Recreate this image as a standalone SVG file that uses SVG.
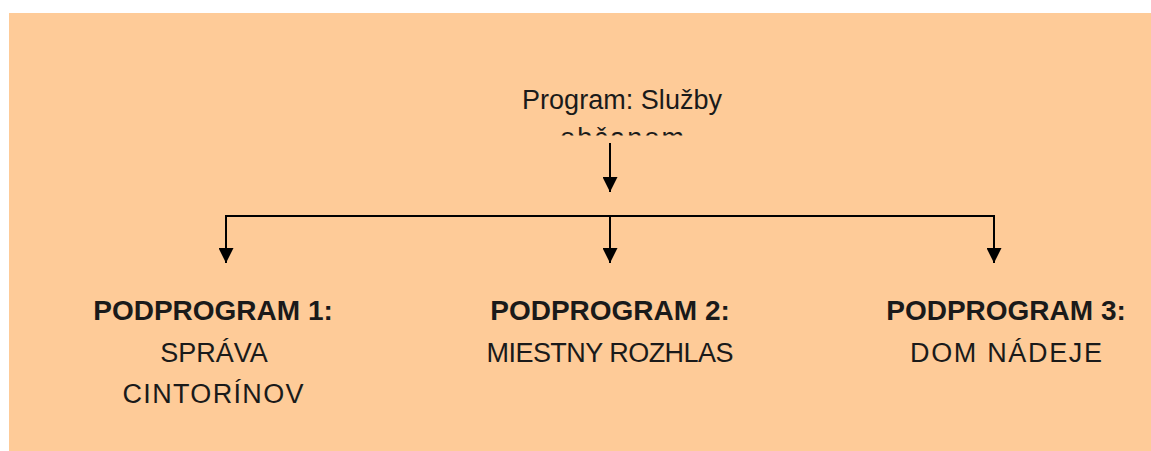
<svg xmlns="http://www.w3.org/2000/svg" width="1151" height="451" viewBox="0 0 1151 451">
<style>
.t{font-family:"Liberation Sans",Arial,sans-serif;fill:#1a1a1a;text-anchor:middle}
.b{font-weight:bold;font-size:28px}
.r{font-size:27px}
.c{stroke:#000;stroke-width:2;fill:none}
</style>
<defs>
<marker id="ah" markerWidth="15" markerHeight="15" refX="15" refY="7.5" orient="auto" markerUnits="userSpaceOnUse">
<path d="M0,0 L15,7.5 L0,15 Z" fill="#000"/>
</marker>
<clipPath id="clipTop"><rect x="400" y="60" width="450" height="75.5"/></clipPath>
</defs>
<rect x="9" y="13" width="1142" height="438" fill="#FECB98"/>
<g id="root">
<g clip-path="url(#clipTop)">
<text class="t" x="622" y="109" font-size="27" textLength="200">Program: Služby</text>
<text class="t" x="622" y="147" font-size="27" textLength="124">občanom</text>
</g>
</g>
<g id="connectors">
<line class="c" x1="610" y1="143" x2="610" y2="192" marker-end="url(#ah)"/>
<polyline class="c" points="226,216 994,216 994,263" marker-end="url(#ah)"/>
<line class="c" x1="226" y1="215" x2="226" y2="263" marker-end="url(#ah)"/>
<line class="c" x1="610" y1="216" x2="610" y2="263" marker-end="url(#ah)"/>
</g>
<g id="sub1">
<text class="t b" x="213" y="320">PODPROGRAM 1:</text>
<text class="t r" x="214" y="362">SPRÁVA</text>
<text class="t r" x="213" y="403" textLength="181">CINTORÍNOV</text>
</g>
<g id="sub2">
<text class="t b" x="610" y="320">PODPROGRAM 2:</text>
<text class="t r" x="610" y="362" textLength="247">MIESTNY ROZHLAS</text>
</g>
<g id="sub3">
<text class="t b" x="1006" y="320">PODPROGRAM 3:</text>
<text class="t r" x="1006" y="362" textLength="192">DOM NÁDEJE</text>
</g>
</svg>
